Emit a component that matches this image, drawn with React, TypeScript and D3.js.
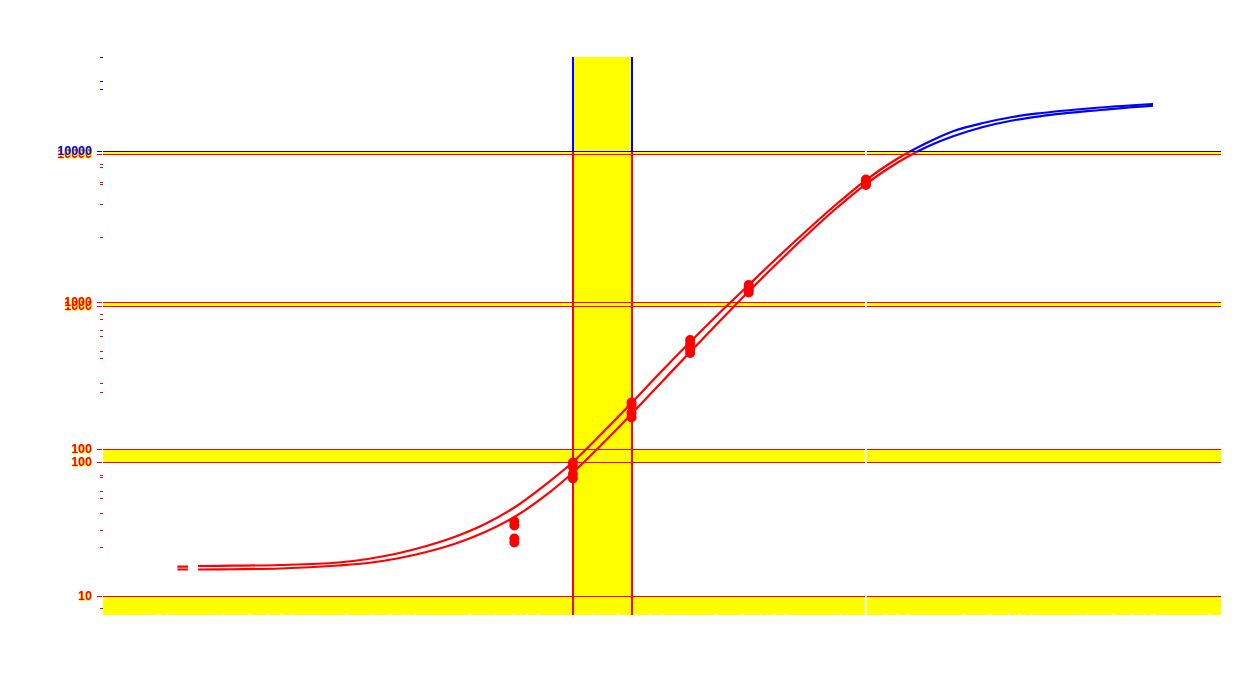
import React from 'react';
import * as d3 from 'd3';

const RED = '#ff0000';
const BLUE = '#0000ff';
const YELLOW = '#ffff00';
const WHITE = '#ffffff';

// Two overlaid log axes (A = upper label set, B = lower label set)
const axisATicks = [10000, 1000, 100];
const axisALabels = ['10000', '1000', '100'];
const axisBTicks = [10000, 1000, 100, 10];
const axisBLabels = ['10000', '1000', '100', '10'];
const minorTicks = [42110, 29220, 25860, 8240, 7870, 6261, 6120, 4477, 2707, 832.5, 769.8, 648, 589.8, 466.5, 417.9, 282.5, 245.4, 67.2, 65.2, 52.5, 47.1, 37.4, 28.7, 22.1, 8.6];

// Replicate measurements (x in dilution steps)
const doses = [0, 1, 2, 3, 4, 6];
const upperRepA = [32.8, 81.5, 208.2, 554, 1302, 6504];
const upperRepB = [30.8, 76.1, 197.1, 520, 1263, 6357];
const lowerRepA = [25.2, 68.3, 176.6, 477.5, 1206, 6120];
const lowerRepB = [23.7, 63.7, 164.6, 452, 1161, 5981];

// Fitted curves
const curveX = [-5.75, -5.57, -5.5, -5.4, -5, -4, -3, -2.5, -2, -1.5, -1, -0.5, 0, 0.5, 1, 1.5, 2, 2.5, 3, 3.5, 4, 4.5, 5, 5.5, 6, 6.5, 7, 7.5, 8, 8.5, 9, 10, 10.9];
const upperCurve: (number | null)[] = [16.34, 16.34, null, 16.47, 16.52, 16.73, 17.39, 18.36, 19.98, 22.44, 25.99, 31.53, 40.68, 56.7, 82.2, 129.1, 206.5, 335.7, 537, 845.6, 1302, 1995, 3012, 4477, 6455, 8758, 11177, 13627, 15394, 16877, 17929, 19503, 20571];
const lowerCurve: (number | null)[] = [15.61, 15.61, null, 15.61, 15.65, 15.85, 16.6, 17.26, 18.5, 20.45, 23.32, 27.86, 35.13, 47.86, 69.89, 108.7, 173.9, 282.5, 459.1, 740.4, 1179, 1834, 2812, 4212, 6073, 8240, 10517, 12631, 14484, 15996, 17130, 18770, 20045];

const bandX = [1, 2];
const whiteLineX = 6;
const xMinorTicks = [-6.10, -5.92, -4.97, -4.53, -4.22, -3.98, -3.80, -2.88, -2.43, -2.12, -1.88, -1.70, -0.77, -0.33, -0.02, 0.21, 0.40, 1.32, 1.77, 2.07, 2.31, 2.50, 3.44, 3.88, 4.19, 4.43, 4.62, 5.55, 6.33, 6.53, 6.72, 7.65, 8.10, 8.42, 8.62, 8.81, 9.77, 10.22, 10.53, 10.75, 10.92, 11.86];

const W = 1240;
const H = 687;
const plotTop = 57;
const plotBottom = 615;

export default function App() {
  const x = d3.scaleLinear().domain([-7.02, 12.06]).range([103, 1221]);
  const yA = d3.scaleLog().domain([10, 100, 1000, 10000]).range([598.3, 449.3, 302.3, 151.3]);
  const yB = d3.scaleLog().domain([10, 100, 1000, 10000]).range([596.3, 461.7, 305.7, 154.3]);
  const [left, right] = x.range();
  const split = yA(10000) + 1;
  const col = (y: number) => (y < split ? BLUE : RED);
  const font = '"Liberation Sans", Arial, sans-serif';

  const makeLine = (vals: (number | null)[]) =>
    d3
      .line<number>()
      .defined((_, i) => vals[i] != null)
      .x((d) => x(d))
      .y((_, i) => yA(vals[i] as number))
      .curve(d3.curveMonotoneX)(curveX) || '';

  const upperPath = makeLine(upperCurve);
  const lowerPath = makeLine(lowerCurve);

  const hBands: [number, number][] = axisATicks.map((v) => {
    const a = yA(v);
    const b = yB(v);
    return [Math.min(a, b), Math.max(a, b)];
  });
  hBands.push([yB(10), plotBottom]);

  const points: [number, number][] = [];
  [upperRepA, upperRepB, lowerRepA, lowerRepB].forEach((s) =>
    s.forEach((v, i) => points.push([doses[i], v]))
  );

  const gridLines = [
    ...axisATicks.map((v) => yA(v)),
    ...axisBTicks.map((v) => yB(v)),
  ];

  const label = (key: string, y: number, txt: string) => (
    <g key={key}>
      <line x1={97} x2={102} y1={Math.round(y) + 0.5} y2={Math.round(y) + 0.5} stroke={col(y)} strokeWidth={1} shapeRendering="crispEdges" />
      <text x={92.8} y={y + 0.8} dominantBaseline="central" textAnchor="end" fontFamily={font} fontWeight="bold" fontSize={12.5} fill={YELLOW}>
        {txt}
      </text>
      <text x={92} y={y} dominantBaseline="central" textAnchor="end" fontFamily={font} fontWeight="bold" fontSize={12.5} fill={col(y)}>
        {txt}
      </text>
    </g>
  );

  return (
    <svg width={W} height={H} style={{ position: 'absolute', left: 0, top: 0, background: WHITE }}>
      <defs>
        <clipPath id="clipRed">
          <rect x={0} y={split} width={W} height={H - split} />
        </clipPath>
        <clipPath id="clipBlue">
          <rect x={0} y={0} width={W} height={split} />
        </clipPath>
      </defs>
      <rect x={0} y={0} width={W} height={H} fill={WHITE} />

      {/* yellow bands */}
      {hBands.map(([a, b], i) => (
        <rect key={'hb' + i} x={left} y={a} width={right - left} height={b - a} fill={YELLOW} shapeRendering="crispEdges" />
      ))}
      <rect x={x(bandX[0])} y={plotTop} width={x(bandX[1]) - x(bandX[0])} height={plotBottom - plotTop} fill={YELLOW} shapeRendering="crispEdges" />

      {/* grid lines */}
      {gridLines.map((y, i) => (
        <line key={'g' + i} x1={left} x2={right} y1={Math.round(y) + 0.5} y2={Math.round(y) + 0.5} stroke={col(y)} strokeWidth={1} shapeRendering="crispEdges" />
      ))}

      {/* white vertical line */}
      <line x1={x(whiteLineX)} x2={x(whiteLineX)} y1={plotTop} y2={plotBottom} stroke={WHITE} strokeWidth={2} />

      {/* x minor ticks */}
      {xMinorTicks.map((v, i) => (
        <line key={'xt' + i} x1={Math.round(x(v)) + 0.5} x2={Math.round(x(v)) + 0.5} y1={plotBottom - 2} y2={plotBottom} stroke={WHITE} strokeWidth={1} shapeRendering="crispEdges" />
      ))}

      {/* band edge vertical lines */}
      {bandX.map((v, i) => (
        <g key={'bx' + i}>
          <line x1={x(v)} x2={x(v)} y1={plotTop} y2={split} stroke={BLUE} strokeWidth={2} shapeRendering="crispEdges" />
          <line x1={x(v)} x2={x(v)} y1={split} y2={plotBottom} stroke={RED} strokeWidth={2} shapeRendering="crispEdges" />
        </g>
      ))}

      {/* minor y ticks */}
      {minorTicks.map((v, i) => {
        const y = Math.round(yA(v)) + 0.5;
        return <line key={'mt' + i} x1={100} x2={102.5} y1={y} y2={y} stroke={col(y)} strokeWidth={1} shapeRendering="crispEdges" />;
      })}

      {/* major ticks and labels */}
      {axisBTicks.map((v, i) => label('lb' + i, yB(v), axisBLabels[i]))}
      {axisATicks.map((v, i) => label('la' + i, yA(v), axisALabels[i]))}

      {/* curves */}
      <g clipPath="url(#clipRed)">
        <path d={upperPath} fill="none" stroke={RED} strokeWidth={2.2} />
        <path d={lowerPath} fill="none" stroke={RED} strokeWidth={2.2} />
      </g>
      <g clipPath="url(#clipBlue)">
        <path d={upperPath} fill="none" stroke={BLUE} strokeWidth={2.2} />
        <path d={lowerPath} fill="none" stroke={BLUE} strokeWidth={2.2} />
      </g>

      {/* points */}
      {points.map(([d, v], i) => (
        <circle key={'p' + i} cx={x(d)} cy={yA(v)} r={5} fill={col(yA(v))} />
      ))}
    </svg>
  );
}
